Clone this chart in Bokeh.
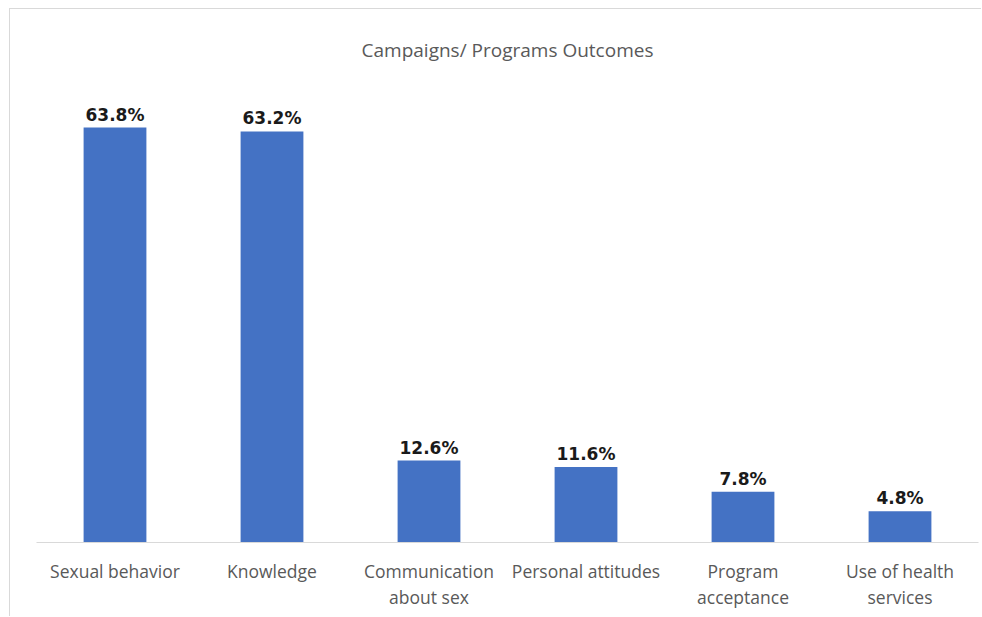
from bokeh.plotting import figure
from bokeh.models import ColumnDataSource, LabelSet, Range1d
from bokeh.core.properties import value
from bokeh.embed import file_html
from bokeh.resources import INLINE

title_text = "Campaigns/ Programs Outcomes"
categories = ["Sexual behavior", "Knowledge", "Communication\nabout sex",
              "Personal attitudes", "Program\nacceptance", "Use of health\nservices"]
values = [63.8, 63.2, 12.6, 11.6, 7.8, 4.8]
value_labels = ["63.8%", "63.2%", "12.6%", "11.6%", "7.8%", "4.8%"]

src = ColumnDataSource(dict(cat=categories, val=values, lab=value_labels))

p = figure(x_range=categories, y_range=Range1d(0, 69.8), width=972, height=608,
           output_backend="svg", toolbar_location=None,
           min_border_left=26, min_border_right=4, min_border_top=78, min_border_bottom=75)
p.styles = {"margin-left": "9px", "margin-top": "8px",
            "border-left": "1px solid #d9d9d9", "border-top": "1px solid #d9d9d9"}

p.vbar(x="cat", top="val", width=0.4, source=src, fill_color="#4472C4", line_color=None)

labels = LabelSet(x="cat", y="val", text="lab", source=src, text_align="center",
                  text_baseline="bottom", y_offset=3, text_font=value("DejaVu Sans"),
                  text_font_style="bold", text_font_size="17px", text_color="#1a1a1a")
p.add_layout(labels)

p.title.text = title_text
p.title.align = "center"
p.title.text_font = "Open Sans"
p.title.text_font_style = "normal"
p.title.text_font_size = "19px"
p.title.text_color = "#595959"
p.title.offset = 0
p.title.standoff = 51

p.yaxis.visible = False
p.xgrid.visible = False
p.ygrid.visible = False
p.outline_line_color = None

ax = p.xaxis[0]
ax.axis_line_color = "#d9d9d9"
ax.axis_line_width = 1
ax.major_tick_line_color = None
ax.minor_tick_line_color = None
ax.major_label_text_font = "Open Sans"
ax.major_label_text_font_size = "17.5px"
ax.major_label_text_color = "#595959"
ax.major_label_standoff = 10
ax.major_label_text_line_height = 1.1

open("out.html", "w").write(file_html(p, INLINE))
